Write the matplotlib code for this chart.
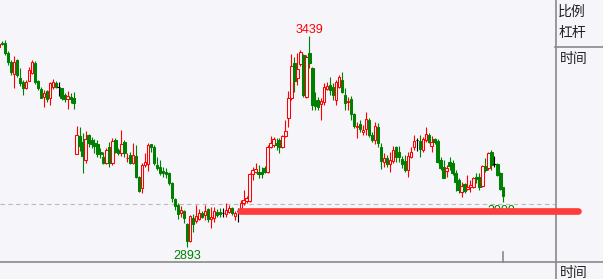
import matplotlib

matplotlib.use("Agg")
import matplotlib.pyplot as plt
from matplotlib.lines import Line2D
from matplotlib.patches import Rectangle
from matplotlib.transforms import blended_transform_factory

# daily candles, oldest first
opens = [
    3411, 3420, 3421, 3395, 3372, 3341, 3377, 3330, 3320, 3304, 3322, 3343, 3369,
    3322, 3302, 3281, 3297, 3278, 3307, 3317, 3307, 3304, 3286, 3276, 3281, 3278,
    3133, 3180, 3164, 3118, 3183, 3170, 3162, 3159, 3139, 3126, 3110, 3151, 3110, 3170, 3144, 3136, 3164, 3122, 3131, 3110,
    3128, 3074, 3045, 3105, 3107, 3159, 3151, 3105, 3100, 3089, 3087, 3084, 3058, 3017, 3001, 2980, 2986, 2952, 2908, 2968,
    2960, 2965, 2980, 2975, 2991, 2965, 2968, 2983, 2983, 2980, 2978, 2983, 2993, 2973, 2986, 2993, 3006, 3011, 3011, 3081,
    3087, 3087, 3087, 3097, 3087, 3151, 3157, 3162, 3170, 3151, 3180, 3227, 3278, 3369, 3330, 3366, 3390, 3281, 3395, 3356,
    3273, 3273, 3263, 3268, 3302, 3312, 3307, 3273, 3307, 3325, 3286, 3268, 3276, 3237, 3203, 3211, 3190, 3198, 3221, 3183,
    3170, 3203, 3151, 3113, 3123, 3107, 3115, 3151, 3139, 3120, 3115, 3092, 3126, 3151, 3170, 3167, 3144, 3170, 3183, 3154,
    3172, 3167, 3118, 3100, 3089, 3113, 3110, 3084, 3066, 3035, 3056, 3043, 3048, 3048, 3074, 3074, 3050, 3102, 3097, 3139,
    3107, 3107, 3084, 3048,
]
highs = [
    3421, 3426, 3429, 3400, 3377, 3387, 3378, 3356, 3325, 3325, 3359, 3377, 3374,
    3325, 3307, 3299, 3299, 3320, 3328, 3322, 3320, 3305, 3291, 3297, 3291, 3294,
    3206, 3203, 3188, 3193, 3185, 3178, 3172, 3170, 3149, 3139, 3149, 3164, 3175, 3175, 3149, 3196, 3170, 3136, 3139, 3162,
    3157, 3076, 3110, 3136, 3162, 3160, 3157, 3126, 3118, 3100, 3097, 3087, 3061, 3019, 3006, 2998, 2987, 2955, 2975, 2978,
    3001, 2991, 2986, 3001, 2993, 2996, 2996, 2991, 2993, 2993, 3006, 3001, 2996, 2986, 2993, 3014, 3040, 3024, 3084, 3100,
    3110, 3105, 3100, 3102, 3157, 3180, 3178, 3175, 3175, 3183, 3221, 3297, 3392, 3384, 3395, 3403, 3392, 3390, 3439, 3359,
    3294, 3281, 3278, 3317, 3320, 3333, 3317, 3325, 3338, 3346, 3304, 3281, 3284, 3240, 3216, 3221, 3209, 3242, 3227, 3190,
    3216, 3214, 3162, 3136, 3131, 3139, 3154, 3154, 3154, 3128, 3131, 3139, 3151, 3183, 3175, 3183, 3178, 3203, 3188, 3180,
    3175, 3172, 3126, 3118, 3105, 3126, 3118, 3092, 3071, 3061, 3058, 3079, 3066, 3074, 3084, 3084, 3105, 3123, 3139, 3144,
    3128, 3110, 3087, 3048,
]
lows = [
    3410, 3416, 3390, 3364, 3338, 3304, 3333, 3309, 3286, 3302, 3321, 3341, 3315,
    3299, 3277, 3255, 3268, 3260, 3302, 3304, 3284, 3273, 3268, 3250, 3266, 3250,
    3132, 3141, 3084, 3110, 3151, 3149, 3136, 3126, 3123, 3107, 3107, 3100, 3105, 3136, 3131, 3128, 3126, 3113, 3107, 3107,
    3071, 3035, 3032, 3100, 3089, 3139, 3105, 3092, 3079, 3074, 3071, 3053, 3009, 2988, 2965, 2970, 2955, 2893, 2905, 2931,
    2955, 2962, 2968, 2962, 2957, 2941, 2957, 2970, 2970, 2970, 2970, 2980, 2975, 2962, 2957, 2988, 3001, 3006, 3010, 3066,
    3084, 3071, 3071, 3084, 3084, 3149, 3151, 3144, 3136, 3149, 3177, 3203, 3273, 3294, 3312, 3361, 3281, 3278, 3356, 3247,
    3247, 3247, 3221, 3260, 3299, 3286, 3273, 3260, 3304, 3291, 3247, 3247, 3221, 3201, 3175, 3190, 3183, 3183, 3177, 3164,
    3159, 3151, 3094, 3100, 3100, 3087, 3110, 3113, 3113, 3097, 3087, 3074, 3123, 3144, 3141, 3126, 3139, 3164, 3162, 3139,
    3159, 3110, 3092, 3070, 3074, 3092, 3079, 3037, 3032, 3022, 3032, 3040, 3035, 3045, 3058, 3040, 3048, 3087, 3092, 3092,
    3100, 3076, 3040, 3009,
]
closes = [
    3418, 3417, 3395, 3372, 3346, 3372, 3338, 3317, 3304, 3320, 3351, 3372, 3320,
    3304, 3278, 3291, 3276, 3317, 3320, 3307, 3307, 3278, 3276, 3284, 3276, 3266,
    3183, 3154, 3128, 3172, 3162, 3159, 3154, 3133, 3133, 3110, 3144, 3110, 3167, 3139, 3136, 3159, 3136, 3124, 3110, 3131,
    3074, 3037, 3105, 3113, 3157, 3151, 3110, 3097, 3084, 3084, 3081, 3058, 3019, 2998, 2978, 2988, 2968, 2908, 2973, 2952,
    2973, 2980, 2970, 2986, 2965, 2970, 2986, 2975, 2978, 2980, 2988, 2993, 2980, 2980, 2986, 3006, 3014, 3019, 3081, 3092,
    3094, 3081, 3081, 3087, 3151, 3162, 3172, 3157, 3151, 3180, 3193, 3278, 3361, 3322, 3353, 3398, 3286, 3384, 3369, 3260,
    3258, 3255, 3271, 3307, 3309, 3299, 3286, 3320, 3333, 3294, 3266, 3271, 3237, 3206, 3206, 3198, 3196, 3224, 3183, 3170,
    3206, 3162, 3115, 3123, 3107, 3118, 3144, 3126, 3126, 3107, 3092, 3128, 3139, 3167, 3170, 3146, 3172, 3185, 3164, 3164,
    3164, 3113, 3097, 3071, 3097, 3102, 3084, 3061, 3040, 3050, 3037, 3048, 3053, 3071, 3069, 3048, 3102, 3092, 3136, 3105,
    3107, 3079, 3043, 3024,
]

stop_level = 2986
ref_level = 3003
side_labels = ["比例", "杠杆", "时间"]
time_label = "时间"

BG = "#f5f5fa"
UP = "#ff0000"
DOWN = "#008000"
FLAT = "#000000"
EDGE = "#8a8a8a"

W, H = 603, 279
plt.rcParams["font.family"] = ["Noto Sans CJK SC", "DejaVu Sans"]

fig = plt.figure(figsize=(W / 100, H / 100), dpi=100, facecolor=BG)
ax = fig.add_axes([0, 18 / H, 555 / W, 261 / H], facecolor=BG)
ax.set_axis_off()
ax.set_xlim(0.335, 0.335 + 555 / 2.984)
ax.set_ylim(2856, 3532)

for i, (o, h, l, c) in enumerate(zip(opens, highs, lows, closes)):
    col = UP if c > o else (DOWN if c < o else FLAT)
    ax.vlines(i, l, h, color=col, lw=0.8, zorder=2)
    if c == o:
        ax.hlines(o, i - 0.4, i + 0.4, color=col, lw=0.8, zorder=3)
        continue
    face = BG if c > o else col
    ax.add_patch(Rectangle((i - 0.4, min(o, c)), 0.8, max(abs(c - o), 1.5),
                           facecolor=face, edgecolor=col, lw=0.75, zorder=3))

ax.axhline(ref_level, color="#bbbbbb", lw=0.8, ls=(0, (4, 3)), zorder=1)

# high / low marks
hi = highs.index(max(highs))
lo = lows.index(min(lows))
lbl = dict(ha="center", va="baseline", fontsize=9, family=["Liberation Sans"],
           textcoords="offset points")
ax.annotate(str(max(highs)), (hi, max(highs)), xytext=(0, 2.2), color=UP, **lbl)
ax.annotate(str(min(lows)), (lo, min(lows)), xytext=(0, -9), color=DOWN, **lbl)
ax.annotate(str(lows[-1]), (len(lows) - 1.5, lows[-1]), xytext=(0, -9), color=DOWN, **lbl)

# frame of the quote panel
frame = [
    ([555.5, 555.5], [0, H]),
    ([0, W], [261.5, 261.5]),
    ([555, W], [46.5, 46.5]),
    ([502.5, 502.5], [252, 261.5]),
]
for xs, ys in frame:
    fig.add_artist(Line2D([x / W for x in xs], [1 - y / H for y in ys],
                          color=EDGE, lw=1.2, zorder=1))

trans = blended_transform_factory(fig.transFigure, ax.transData)
fig.add_artist(Line2D([240 / W, 578 / W], [stop_level, stop_level], transform=trans,
                      color="#ff3b3b", lw=4.8, solid_capstyle="round", zorder=5))

for txt, (x, y) in zip(side_labels, [(558, 11.5), (558, 33.5), (560, 58.5)]):
    fig.text(x / W, 1 - y / H, txt, fontsize=10, ha="left", va="center", color="#222222")
fig.text(560 / W, 1 - 273.5 / H, time_label, fontsize=10, ha="left", va="center", color="#222222")

fig.savefig("out.png", dpi=100, facecolor=BG)
